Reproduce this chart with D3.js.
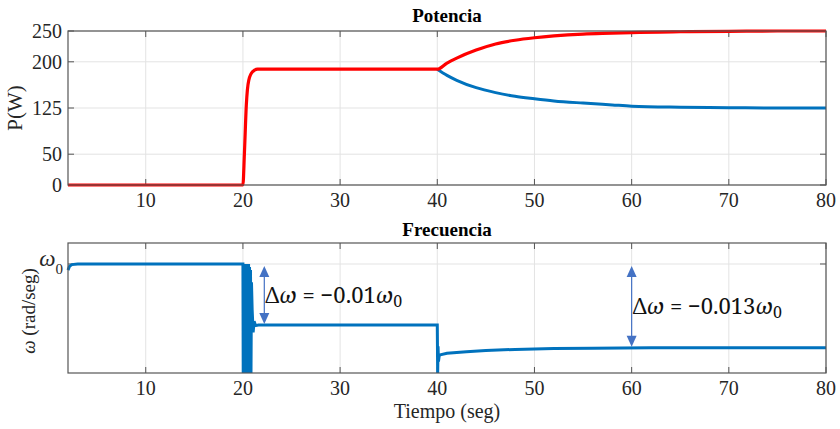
<!DOCTYPE html>
<html>
<head>
<meta charset="utf-8">
<script src="https://cdn.jsdelivr.net/npm/d3@7"></script>
<style>
  body { margin: 0; background: #fff; }
</style>
</head>
<body>
<script>
// ---- data ----
var timeTicks = [10, 20, 30, 40, 50, 60, 70, 80];
var powerTicks = [0, 50, 125, 200, 250];

// power (W), both sources; the blue one is hidden under the red one until t = 40
var tPower = [2, 20, 20.15, 20.35, 20.6, 21, 21.5, 22, 40, 41, 42, 44, 46, 48, 50, 52, 55, 58, 60, 65, 70, 75, 80];
var pRed   = [0, 0, 50, 130, 170, 184, 188, 188, 188, 198, 206, 219, 229, 235, 239, 242, 245, 246.5, 247.5, 248.8, 249.5, 250, 250];
var pBlue  = [0, 0, 50, 130, 170, 184, 188, 188, 188, 178, 170, 158, 150, 144, 140, 136.5, 133, 130, 128, 126.3, 125.5, 125, 125];

// frequency deviation, % of w0 (0 = w0)
var tFreq = [2, 2.15, 2.4, 3, 20,
  20.03, 20.08, 20.13, 20.18, 20.23, 20.28, 20.33, 20.38, 20.43, 20.48, 20.53, 20.58, 20.63, 20.68, 20.73, 20.78, 20.83, 20.88,
  20.95, 21.05, 21.15, 21.3, 21.6, 40, 40.04, 40.08, 40.12, 40.2, 40.3, 41, 43, 45, 48, 52, 56, 62, 70, 80];
var wFreq = [-0.1, -0.04, -0.01, 0, 0,
  -1.787, 0, -1.787, 0, -1.787, 0, -1.787, 0, -1.787, 0, -1.787, 0, -1.787, -0.05, -1.787, -0.1, -1.787, -0.3,
  -0.75, -1.12, -0.94, -1.01, -1, -1, -1.787, -1.35, -1.6, -1.5, -1.49, -1.465, -1.44, -1.42, -1.40, -1.385, -1.38, -1.375, -1.372, -1.372];
var freqTicks = [0];

var annotations = [
  {t: 22.2, top: 0, bottom: -1, label: "−0.01"},
  {t: 60, top: 0, bottom: -1.372, label: "−0.013"}
];

// ---- layout ----
var w = 840, h = 429;
var left = 68, right = 826;
var top1 = 31, bot1 = 185;
var top2 = 243, bot2 = 373;
var red = "#ff0000", blue = "#0072bd", arrowColor = "#4472c4";
var serif = "'Liberation Serif', 'Times New Roman', serif";
var mathFont = "'Noto Serif', 'DejaVu Serif', serif";

var svg = d3.select("body").append("svg")
    .attr("width", w)
    .attr("height", h);

// every text gets its font inline
function txt(sel, size, family) {
    return sel.append("text")
        .style("font-family", family || serif)
        .style("font-size", size + "px")
        .style("fill", "#262626");
}

var x = d3.scaleLinear().domain([2, 80]).range([left, right]);
var yP = d3.scaleLinear().domain([0, 250]).range([bot1, top1]);
var yW = d3.scaleLinear().domain([-1.787, 0.344]).range([bot2, top2]);

function drawFrame(y, yTop, yBot, yTicks) {
    var g = svg.append("g");
    // grid
    g.selectAll(".vg").data(timeTicks).enter().append("line")
        .attr("x1", x).attr("x2", x).attr("y1", yTop).attr("y2", yBot)
        .attr("stroke", "#e3e3e3").attr("stroke-width", 1);
    g.selectAll(".hg").data(yTicks).enter().append("line")
        .attr("x1", left).attr("x2", right).attr("y1", y).attr("y2", y)
        .attr("stroke", "#e3e3e3").attr("stroke-width", 1);
    // inward ticks on all four sides
    g.selectAll(".tb").data(timeTicks).enter().append("line")
        .attr("x1", x).attr("x2", x).attr("y1", yBot).attr("y2", yBot - 6)
        .attr("stroke", "#555");
    g.selectAll(".tt").data(timeTicks).enter().append("line")
        .attr("x1", x).attr("x2", x).attr("y1", yTop).attr("y2", yTop + 6)
        .attr("stroke", "#555");
    g.selectAll(".tl").data(yTicks).enter().append("line")
        .attr("x1", left).attr("x2", left + 6).attr("y1", y).attr("y2", y)
        .attr("stroke", "#555");
    g.selectAll(".tr").data(yTicks).enter().append("line")
        .attr("x1", right).attr("x2", right - 6).attr("y1", y).attr("y2", y)
        .attr("stroke", "#555");
    // x tick labels
    timeTicks.forEach(function(d) {
        txt(g, 20).attr("x", x(d)).attr("y", yBot + 22)
            .attr("text-anchor", "middle")
            .text(d);
    });
    return g;
}

function drawBox() {
    svg.append("rect").attr("x", left).attr("y", top1)
        .attr("width", right - left).attr("height", bot1 - top1)
        .attr("fill", "none").attr("stroke", "#555").attr("stroke-width", 1.2);
    svg.append("rect").attr("x", left).attr("y", top2)
        .attr("width", right - left).attr("height", bot2 - top2)
        .attr("fill", "none").attr("stroke", "#555").attr("stroke-width", 1.2);
}

// ---- Potencia ----
var g1 = drawFrame(yP, top1, bot1, powerTicks);
powerTicks.forEach(function(d) {
    txt(g1, 20).attr("x", left - 6).attr("y", yP(d) + 7)
        .attr("text-anchor", "end")
        .text(d);
});

txt(svg, 19).attr("x", (left + right) / 2).attr("y", 22)
    .attr("text-anchor", "middle")
    .style("font-weight", "bold").style("fill", "#000")
    .text("Potencia");

txt(svg, 21)
    .attr("transform", "translate(22," + ((top1 + bot1) / 2) + ") rotate(-90)")
    .attr("text-anchor", "middle")
    .text("P(W)");

// ---- Frecuencia ----
var g2 = drawFrame(yW, top2, bot2, freqTicks);
var w0 = txt(g2, 23)
    .attr("x", left - 5).attr("y", yW(0) + 2)
    .attr("text-anchor", "end");
w0.append("tspan").style("font-style", "italic").text("ω");
w0.append("tspan").attr("dy", 8).style("font-size", "15px").text("0");

txt(svg, 19).attr("x", (left + right) / 2).attr("y", 236)
    .attr("text-anchor", "middle")
    .style("font-weight", "bold").style("fill", "#000")
    .text("Frecuencia");

var ylab = txt(svg, 19)
    .attr("transform", "translate(35,311) rotate(-90)")
    .attr("text-anchor", "middle");
ylab.append("tspan").style("font-style", "italic").text("ω");
ylab.append("tspan").text(" (rad/seg)");

txt(svg, 20).attr("x", (left + right) / 2).attr("y", 418)
    .attr("text-anchor", "middle")
    .text("Tiempo (seg)");

// ---- lines ----
var linePower = d3.line()
    .x(function(d) { return x(d[0]); })
    .y(function(d) { return yP(d[1]); })
    .curve(d3.curveMonotoneX);

var redPts = tPower.map(function(t, i) { return [t, pRed[i]]; });
// blue lies exactly under red before t = 40, only its visible part is stroked
var bluePts = tPower.map(function(t, i) { return [t, pBlue[i]]; })
    .filter(function(d) { return d[0] >= 40; });

svg.append("path").attr("d", linePower(bluePts))
    .attr("fill", "none").attr("stroke", blue).attr("stroke-width", 3);
svg.append("path").attr("d", linePower(redPts))
    .attr("fill", "none").attr("stroke", red).attr("stroke-width", 3.2);

var lineFreq = d3.line()
    .x(function(d, i) { return x(tFreq[i]); })
    .y(function(d) { return yW(d); })
    .curve(d3.curveLinear);

svg.append("path").attr("d", lineFreq(wFreq))
    .attr("fill", "none").attr("stroke", blue).attr("stroke-width", 3)
    .attr("stroke-linejoin", "miter");

drawBox();

// ---- delta-omega annotations ----
annotations.forEach(function(a) {
    var ax = x(a.t), y1 = yW(a.top) + 2, y2 = yW(a.bottom) - 1;
    svg.append("line")
        .attr("x1", ax).attr("x2", ax).attr("y1", y1 + 8).attr("y2", y2 - 8)
        .attr("stroke", arrowColor).attr("stroke-width", 1.2);
    svg.append("path")
        .attr("d", "M" + ax + "," + y1 + "L" + (ax - 5) + "," + (y1 + 11) + "L" + (ax + 5) + "," + (y1 + 11) + "Z")
        .attr("fill", arrowColor);
    svg.append("path")
        .attr("d", "M" + ax + "," + y2 + "L" + (ax - 5) + "," + (y2 - 11) + "L" + (ax + 5) + "," + (y2 - 11) + "Z")
        .attr("fill", arrowColor);
    var t = txt(svg, 22, mathFont)
        .attr("x", ax + 1).attr("y", (y1 + y2) / 2 + 8)
        .style("fill", "#111");
    t.append("tspan").text("Δ");
    t.append("tspan").style("font-style", "italic").text("ω");
    t.append("tspan").text(" = " + a.label);
    t.append("tspan").style("font-style", "italic").text("ω");
    t.append("tspan").attr("dy", 4).style("font-size", "16px").text("0");
});
</script>
</body>
</html>
